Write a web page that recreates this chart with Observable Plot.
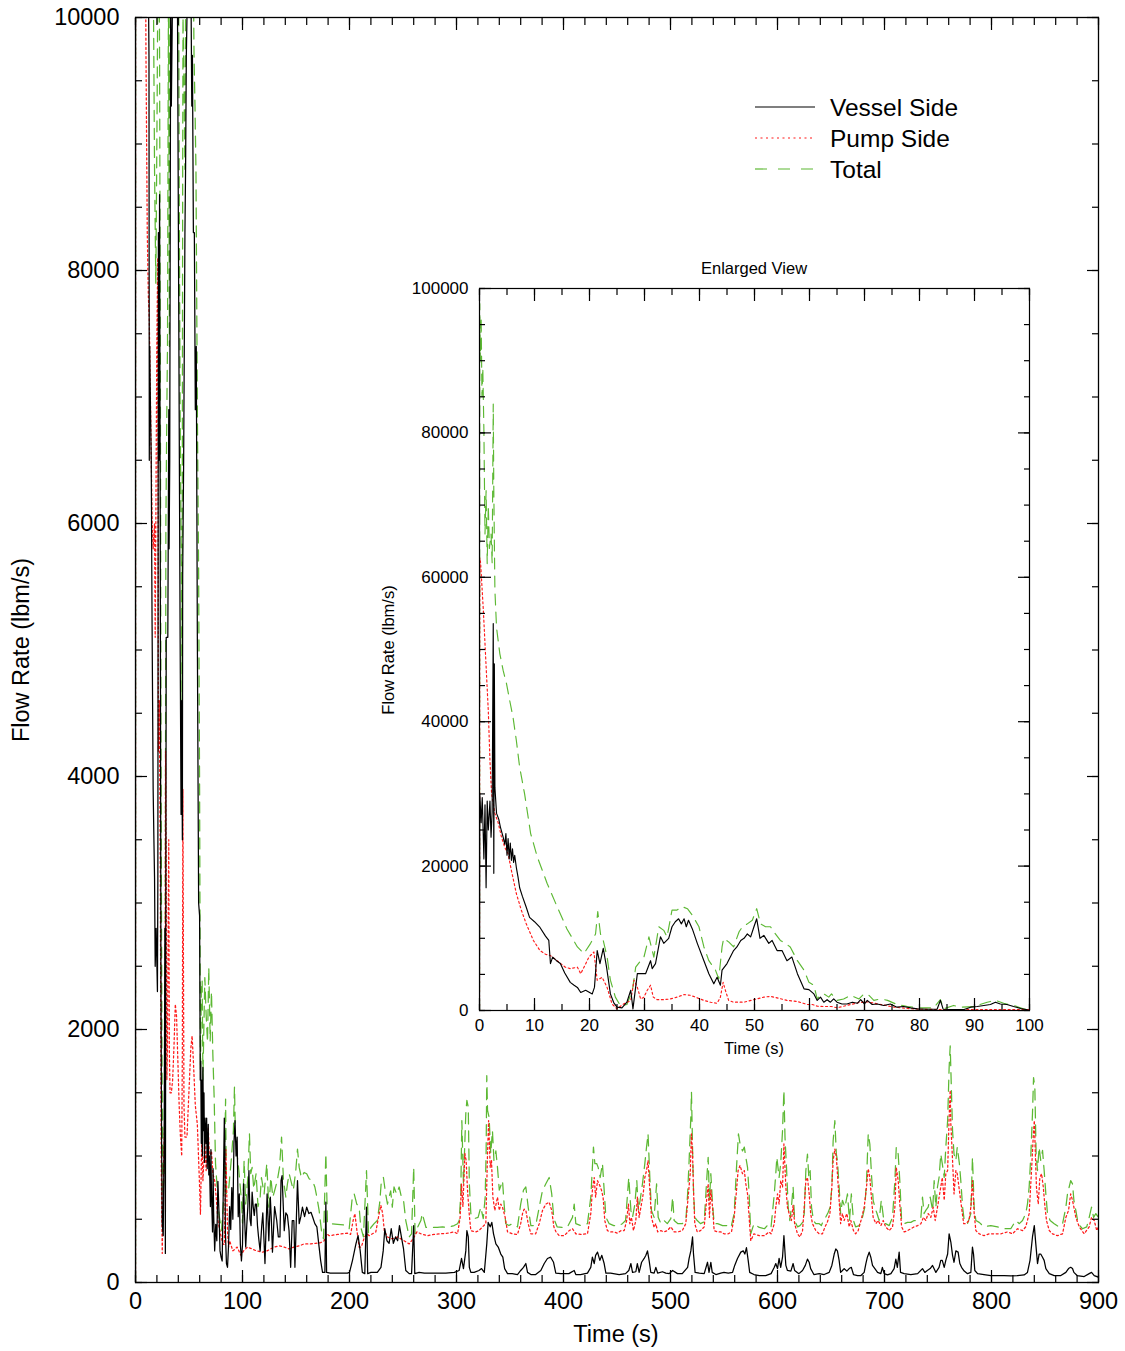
<!DOCTYPE html>
<html>
<head>
<meta charset="utf-8">
<script src="https://cdn.jsdelivr.net/npm/d3@7"></script>
<script src="https://cdn.jsdelivr.net/npm/@observablehq/plot@0.6"></script>
<style>
  html, body { margin: 0; padding: 0; background: #fff; }
  #chart { position: relative; width: 1125px; height: 1351px; font-family: "Liberation Sans", Arial, Helvetica, sans-serif; color: #000; overflow: hidden; }
  #chart > svg, #chart > div.part { position: absolute; }
  .lbl { position: absolute; white-space: nowrap; line-height: 1; transform: translate(-50%, -50%); }
  .rot { transform: translate(-50%, -50%) rotate(-90deg); }
</style>
</head>
<body>
<div id="chart"></div>
<script>
// ---------- Series, [time (s), flow rate (lbm/s)] ----------

// First 100 s (high-resolution record)
const earlyVessel = [
  [0,0],[0.05,30000],[0.3,26000],[0.5,29500],[0.8,21000],[1.0,28500],[1.2,17000],[1.4,29000],[1.6,25000],[1.9,29000],
  [2.1,24000],[2.3,27500],[2.5,53600],[2.6,19000],[2.7,48000],[2.8,30900],[3.1,27300],[3.5,26500],[3.8,25400],[4.3,24000],
  [4.6,23000],[4.8,24500],[5.0,21500],[5.2,23800],[5.4,21000],[5.6,23200],[5.8,20800],[6.0,22400],[6.2,20500],[6.4,21500],
  [6.7,19800],[7.0,18500],[7.3,17000],[7.8,15800],[8.5,14300],[9.1,12900],[10.0,12300],[11.0,11500],[12.0,10300],[12.6,9700],
  [12.9,6500],[13.3,7400],[14.0,6900],[14.7,6500],[15.5,5200],[16.5,3900],[17.2,3500],[17.8,3200],[18.4,2500],[19.3,2800],
  [20.5,2300],[20.9,3200],[21.4,8300],[21.9,6500],[22.5,8600],[23.1,6000],[23.8,2300],[24.4,1100],[25.0,460],[25.9,370],
  [26.8,1150],[27.5,2800],[27.9,230],[28.7,5100],[29.3,5100],[30.2,5100],[31.1,6900],[31.4,5800],[32.0,6500],[32.9,10200],
  [33.5,9300],[34.4,10000],[35.0,11600],[35.6,12300],[36.2,12700],[36.7,12000],[37.2,12700],[37.6,11600],[38.0,12500],[38.7,11300],
  [39.6,9300],[40.8,6900],[41.7,5100],[42.6,3700],[43.2,4600],[43.8,3500],[44.1,5600],[45.0,6500],[46.2,8300],[46.8,8800],
  [47.5,9700],[48.1,10000],[48.7,10600],[49.3,10200],[49.9,11600],[50.4,12700],[51.0,10000],[51.7,10400],[52.6,9300],[53.2,9700],
  [54.1,8300],[55.0,8300],[55.9,6900],[56.8,7400],[57.8,5100],[59.0,3000],[59.9,2900],[60.8,2300],[61.4,1400],[62.0,1850],
  [62.6,1150],[63.2,1500],[63.8,1150],[64.4,1600],[65.0,1150],[65.9,900],[66.8,900],[67.8,1150],[68.7,1000],[69.3,1500],
  [70.0,900],[70.5,1400],[71.4,830],[72.3,900],[73.5,700],[74.7,900],[75.9,460],[77.1,550],[78.4,370],[79.6,230],
  [81.4,180],[83.2,180],[83.8,1400],[84.3,180],[86.2,140],[88.1,140],[89.3,460],[90.5,550],[91.7,700],[92.9,830],
  [93.8,1150],[94.7,900],[95.9,830],[97.1,550],[98.4,280],[99.6,90]
];

const earlyPump = [
  [0,0],[0.05,62700],[0.2,62000],[0.7,55400],[1.0,50800],[1.3,46100],[1.6,41500],[1.9,34600],[2.2,30000],[2.8,27300],
  [3.4,26000],[4.0,24000],[4.6,22600],[5.2,21700],[5.8,19400],[6.7,16200],[7.6,13900],[8.5,12000],[9.8,9700],[11.0,8300],
  [12.0,7800],[12.9,7600],[14.1,6900],[15.6,6000],[16.5,5800],[17.8,6000],[18.4,5100],[19.0,6000],[19.9,7400],[20.8,8100],
  [21.4,4200],[22.3,4600],[23.2,3200],[24.1,900],[25.0,230],[26.2,900],[27.5,1400],[28.1,4200],[28.7,3200],[29.3,1600],
  [29.9,1850],[30.5,2800],[31.1,3500],[31.6,1850],[32.3,1500],[33.5,1500],[34.7,1600],[35.9,1850],[37.2,2200],[38.4,2100],
  [39.6,1750],[40.8,1400],[42.0,1150],[43.2,1000],[43.8,1850],[44.3,3900],[44.7,2800],[45.3,1400],[46.2,1150],[48.1,1150],
  [49.9,1500],[51.7,1850],[52.9,1950],[54.1,1750],[55.9,1400],[57.8,1250],[59.6,830],[60.5,830],[61.4,600],[62.5,550],
  [64,550],[65,370],[67.5,830],[69,1100],[70.5,1200],[73,830],[75.4,460],[77.8,280],[80.2,180],[82.6,140],
  [86,140],[90,140],[95,140],[100,140]
];

const earlyTotal = [
  [0,0],[0.05,97900],[0.15,90000],[0.3,96000],[0.45,85000],[0.6,89000],[0.8,80300],[1.0,66000],[1.2,72000],[1.4,61900],
  [1.6,70000],[1.8,64000],[2.1,66000],[2.3,62000],[2.5,84000],[2.6,72000],[2.8,58200],[3.1,53000],[3.7,49400],[4.3,47100],
  [4.9,45300],[5.5,42900],[6.1,40600],[6.7,37400],[7.3,33700],[8.2,30000],[9.3,24500],[10.5,21300],[12.3,17600],[14.1,14400],
  [15.9,11300],[17.8,8800],[19.0,7900],[20.2,9300],[21.1,10600],[21.5,13700],[22.0,10600],[22.5,9700],[23.2,7400],[23.8,4200],
  [24.7,1850],[25.6,690],[26.8,830],[27.8,2800],[28.4,6000],[29.3,6900],[29.9,7400],[30.8,10200],[31.7,7400],[32.6,11600],
  [33.5,11100],[34.1,10200],[35.0,13900],[35.9,13900],[36.8,14400],[37.8,14100],[38.7,13200],[39.9,11600],[40.8,8800],[41.7,6900],
  [42.9,5600],[43.5,4400],[44.1,8800],[44.4,10000],[45.3,9500],[46.2,8800],[47.2,10900],[47.8,11600],[48.7,12000],[49.6,12500],
  [50.4,14100],[51.1,12000],[52.0,11600],[52.9,11600],[53.8,10600],[54.7,9700],[55.6,9300],[56.5,8800],[57.8,6900],[59.0,5600],
  [59.9,3900],[60.8,3500],[61.4,1600],[62.0,2100],[62.6,2300],[63.5,1850],[64.0,2300],[65.0,1400],[66.2,1600],[67.5,2100],
  [69.0,1600],[69.9,2300],[70.8,2100],[71.7,1400],[72.9,1600],[74.2,1400],[75.9,830],[77.8,550],[80.2,370],[82.6,370],
  [83.8,1500],[84.4,230],[86.2,700],[87.4,460],[89.9,550],[92.3,1150],[93.8,1400],[95.3,1000],[97.1,700],[98.9,230],[99.8,90]
];

// From 60 s to the end of the transient
const lateVessel = [
  [60.5,1600],[61,1750],[61.5,1100],[62,1600],[62.5,1000],[63,1700],[63.5,1200],[64,1500],[64.5,950],[65,1300],
  [66,1100],[66.5,1300],[67,900],[68,1250],[68.5,850],[69,1000],[70,600],[70.5,1050],[71,700],[72,400],
  [72.5,900],[73,550],[74,250],[75,460],[76,330],[77,800],[78,560],[79,250],[80,200],[81,170],
  [82,700],[83,1300],[83.5,1100],[84,400],[85,150],[86,120],[87,300],[88,600],[89,420],[90,750],
  [91,500],[92,1100],[93,1280],[94,1000],[95,1150],[96,520],[97,700],[98,300],[99,170],[100,300],
  [101,780],[102,500],[103,280],[104,450],[105,600],[106,885],[107,500],[108,450],[109,715],[110,600],
  [111,530],[112,620],[113,620],[114,450],[115,360],[116.5,250],[118,450],[119,550],[121,150],[123,700],
  [124.6,330],[126,675],[127,490],[128,240],[130,600],[132,490],[133.5,360],[135,360],[136,805],[137,845],
  [139,410],[140.5,550],[142,530],[143.5,410],[145,120],[146.5,490],[148,490],[149,120],[151.4,805],[153,465],
  [154.5,520],[156,595],[158,520],[160,595],[162,545],[164,555],[165.5,520],[167.6,465],[169.5,440],[171.6,280],
  [173,175],[174.8,80],[177,80],[177.9,635],[178.6,80],[182,74],[190,74],[198,74],[200,80],[202.8,175],
  [206,305],[208,370],[210,250],[212,80],[214.3,70],[215.9,595],[217,70],[220,80],[226,80],[229.4,120],
  [231.5,250],[233,425],[235,330],[237,310],[239,425],[241,310],[243,360],[245,330],[246.7,450],[248.5,360],
  [250.5,265],[252.6,95],[255.8,70],[258,70],[260,450],[261,70],[265,80],[270,74],[280,74],[290,74],
  [298,80],[302.5,95],[304.7,190],[306.5,110],[308.7,250],[309.7,410],[311,360],[312,120],[313.4,80],[316.5,80],
  [321,95],[323.4,110],[326,80],[328.3,305],[329.6,475],[331.5,440],[333,475],[334.6,385],[336.8,305],[339,280],
  [341.4,225],[343.3,200],[345,110],[347.7,70],[352,70],[357,63],[360,95],[362.6,120],[364.8,150],[366.4,80],
  [369.5,63],[374,63],[378.8,95],[382,150],[385,190],[388,200],[390.7,160],[392.8,74],[397.5,70],[405,70],
  [410,95],[411.5,63],[416,63],[422.4,74],[425.5,120],[427,200],[428.7,150],[430,215],[431.8,240],[434,175],
  [435.8,215],[438,150],[439.6,74],[444,74],[452,63],[458,70],[461,95],[463,150],[464.5,80],[467.6,85],
  [469,150],[470.7,80],[473,160],[475.4,190],[477,215],[478.5,250],[480,175],[481.6,80],[484.7,74],[486.3,120],
  [488,74],[492.5,85],[495.6,74],[498.8,70],[502,95],[506.5,70],[511,70],[516,120],[517.4,190],[519,250],
  [520.6,360],[521.5,225],[523,80],[527,74],[531.5,70],[534.6,160],[536,80],[537.7,160],[539,80],[542.4,63],
  [547,74],[550,80],[554,74],[558,80],[560,135],[562.6,190],[565.7,240],[568,250],[569.5,225],[571,275],
  [572.6,175],[574,80],[578,63],[583,55],[589,55],[594,70],[597,120],[598.4,150],[600,110],[601.5,190],
  [603,120],[604.7,200],[606,370],[607.8,135],[609.3,95],[612.5,90],[614.6,150],[616,95],[620,70],[623.4,95],
  [626,135],[628,185],[629.6,160],[631,110],[634,63],[639,70],[643.6,63],[648.3,80],[650.8,135],[653,225],
  [654.5,265],[656,250],[657.6,175],[659,80],[660.7,95],[662.3,110],[664.8,90],[667,110],[669,120],[671,63],
  [674.8,55],[678,55],[681,80],[682.6,150],[684,200],[685.7,240],[687.2,200],[688.8,135],[691,110],[693.5,80],
  [696.6,70],[698,120],[699.7,70],[702.8,60],[706,70],[709,110],[710.6,185],[712,120],[713.7,240],[715,80],
  [718.4,70],[724.6,63],[731,70],[735.5,110],[737.7,80],[740,95],[742.7,110],[744.9,135],[748,80],[751,120],
  [752.6,175],[754,175],[755.8,120],[757.3,175],[759,225],[760.4,385],[762,320],[763.6,215],[765,160],[766.7,250],
  [768.8,240],[770.4,150],[772,120],[774.5,90],[777.6,70],[780.7,80],[782.2,280],[783.2,225],[784.4,95],[787,70],
  [793,63],[799.4,55],[805.6,55],[811.8,55],[818,53],[824.3,55],[830.5,60],[833.6,80],[836,175],[838.3,360],
  [840,450],[841.4,305],[843,150],[844.5,225],[846,225],[847.7,200],[849.2,175],[850.8,110],[854,70],[858.6,55],
  [864.8,55],[869.5,80],[872,110],[874,120],[875.7,110],[877,80],[880,55],[886.6,47],[891.3,70],[893.5,80],
  [896,55],[900,42]
];

const latePump = [
  [60.7,540],[62,1175],[63,805],[64.8,1120],[66,885],[68,1230],[69,990],[71,1040],[72.3,860],[74,805],
  [75.4,675],[77,490],[79.4,385],[81.6,305],[83,300],[84.5,1050],[86,400],[87,280],[88,330],[91,250],
  [95,280],[98.5,215],[101,250],[104.7,280],[109,265],[113,250],[118.7,240],[123,250],[129.6,280],[134,290],
  [139,280],[143.6,265],[148,280],[153,290],[157.6,305],[164,305],[168.5,310],[173,315],[176.3,330],[178.8,385],
  [181,370],[188.8,380],[198,390],[201,380],[203.4,490],[205,545],[206.5,440],[209,280],[211,280],[214,360],
  [216.5,385],[218.4,370],[221.5,385],[224.6,400],[227.7,545],[229.3,610],[231,545],[232.5,410],[235.5,360],[240,345],
  [245,360],[251,330],[255.8,305],[258,330],[260.4,360],[263,400],[266.7,385],[273,370],[279,380],[285,385],
  [291.6,390],[297.8,400],[301,385],[303.4,515],[304.7,780],[306,600],[307.8,1020],[309,965],[310.3,730],[312,530],
  [313.4,410],[318,400],[321,410],[324.3,440],[327.4,465],[329,1020],[330,1280],[331.5,910],[332.7,965],[334,675],
  [335.8,570],[338.3,675],[340,570],[341.4,620],[343,595],[345.5,515],[347.7,400],[352,385],[357,380],[360,465],
  [361.7,545],[363.2,580],[364.8,570],[367,465],[369.5,385],[374,385],[377.3,465],[380.4,570],[383.5,620],[386.6,635],
  [389,570],[391,440],[393,400],[396,370],[400.6,370],[405.3,410],[408.4,425],[411.5,385],[416,380],[422.4,385],
  [425.5,545],[427,730],[428.7,830],[430,675],[431.8,805],[434,765],[435.5,730],[437,675],[438.6,490],[441,410],
  [444,400],[447,400],[450.5,390],[453.6,410],[456.7,410],[459,490],[460.7,620],[462,465],[463.5,515],[465.4,410],
  [467.6,490],[469,675],[470.7,515],[472.3,595],[474.5,700],[476,830],[477.6,885],[479,965],[480.7,730],[482.2,515],
  [484.7,435],[486.3,465],[488,400],[491,410],[494,400],[497,410],[500.3,440],[503.4,400],[507,400],[511,410],
  [514.3,465],[516.5,675],[518.4,860],[519.6,1175],[520.6,1020],[521.5,730],[522.7,465],[525,400],[528,410],[531.5,440],
  [534,675],[535.2,780],[536.4,515],[537.7,730],[539.3,595],[540.8,410],[544,400],[547,400],[550,385],[554,385],
  [557,400],[559.5,515],[561.7,730],[563.2,885],[565,925],[567.3,860],[569,885],[570.4,780],[572,700],[573.5,515],
  [575,330],[578,385],[583,370],[587.8,370],[592,400],[594,385],[597,465],[598.4,595],[600,700],[601.5,620],
  [603,805],[604.7,755],[606,1095],[607.8,755],[609.3,595],[611,540],[613,490],[614.6,610],[616,465],[618.7,385],
  [621,360],[623.4,410],[625,595],[626.5,805],[628,830],[629.6,700],[631,545],[632.7,465],[635.8,410],[639,385],
  [642,385],[644.4,440],[646.7,480],[649,545],[650.8,755],[652,965],[653.6,1055],[655,990],[656,860],[657.6,650],
  [659,465],[660.7,545],[662.3,490],[664.8,545],[667,440],[668.5,490],[671,410],[673,385],[675.4,410],[678,490],
  [681,595],[683.2,755],[684.8,900],[686.3,830],[688,650],[689.4,515],[692,465],[694,490],[696.6,450],[698.8,490],
  [701,440],[704.4,410],[707.5,440],[709.7,595],[711,910],[712.8,805],[714.3,620],[716,440],[718.4,400],[721.5,410],
  [724.6,425],[727.7,440],[731,450],[734,465],[736.4,515],[738.6,490],[740.8,545],[743.3,515],[745.5,595],[747.4,490],
  [749.5,595],[752.6,755],[754,830],[755.8,650],[757.3,860],[759,885],[760.4,1305],[761.4,1520],[762,1255],[763.6,965],
  [765,700],[766.7,885],[768,860],[770.4,700],[772,595],[774,465],[776,465],[779,490],[780.7,595],[782.2,805],
  [783.8,545],[785.4,410],[788.5,385],[793,370],[797.8,385],[802.5,385],[808.7,385],[815,400],[819.6,385],[824.3,425],
  [829,410],[832,440],[835.2,545],[837.4,885],[839,1150],[840,1280],[840.8,1070],[842,755],[843.7,620],[845.2,830],
  [846.8,860],[848.4,755],[850,595],[851.4,490],[854,410],[857,385],[861.7,370],[866.4,385],[869.5,515],[872,570],
  [874,700],[875.7,650],[877,595],[878.8,515],[882,440],[886.6,385],[891.3,440],[893.5,515],[896,490],[898.4,410],
  [900,440]
];

const lateTotal = [
  [60.7,1675],[61.5,2300],[62.3,2390],[63,1600],[64,2070],[64.8,2410],[66,2120],[67.3,1900],[68.5,2490],[69.8,1910],
  [71,2300],[72.3,1800],[73.5,1465],[74.8,940],[76.3,750],[78,540],[80.4,410],[82,600],[83.5,1100],[84.2,1450],
  [85,700],[87.2,750],[89.7,990],[91.5,1200],[92.5,1545],[93.5,1120],[96.6,885],[99,650],[100,470],[101.5,965],
  [103,620],[105,830],[106.5,1175],[107.7,860],[109,910],[110.5,740],[112.7,860],[114.5,600],[116.5,675],[117.7,830],
  [120.2,700],[122.7,940],[124.6,595],[126.5,830],[128.3,675],[130,725],[132.5,805],[134.6,910],[136.5,1150],[138.3,805],
  [140.5,675],[142,780],[143.6,860],[145.2,805],[147.5,730],[149.8,885],[151.4,1055],[153,910],[155,830],[157.6,870],
  [160,860],[162.3,820],[165.4,805],[167.6,755],[169.5,675],[171.6,570],[173.8,410],[175.7,345],[177.9,1020],[179.4,465],
  [182.6,465],[188.8,460],[195,455],[199.7,425],[202.8,690],[204.4,700],[206.8,620],[209,595],[210.5,440],[213,360],
  [215.9,885],[217.8,385],[220,435],[223,465],[226,490],[228.3,635],[229.8,805],[231.7,830],[233.8,700],[235.5,620],
  [237,675],[238.5,725],[240,595],[241.6,755],[244,700],[246.4,755],[248.5,675],[250.5,650],[252.6,490],[255.8,360],
  [258,385],[260,910],[261.3,385],[263.6,435],[266.7,490],[268,545],[271.5,435],[276,435],[282,435],[287,440],
  [291.6,435],[297.8,450],[301,465],[302.5,490],[304,700],[305,1280],[306.5,780],[308.7,1335],[309.7,1440],[311,1385],
  [312,780],[313.4,545],[316.5,505],[320.2,515],[322.7,595],[325,505],[326.8,675],[327.7,1040],[328.3,1635],[329,1360],
  [330.5,1305],[332,1020],[333.6,1200],[335,965],[336.8,1040],[338.3,910],[340,730],[343,805],[344.5,620],[346,465],
  [349,450],[352,465],[357,440],[360,620],[362.6,730],[364.8,755],[367,595],[369.5,450],[374,450],[377.3,595],
  [380.4,730],[383.5,780],[386.6,830],[389,700],[391,505],[394,440],[399,435],[403.7,440],[408.4,515],[410,620],
  [411.5,465],[416,450],[422.4,465],[425.5,675],[427,910],[428,1070],[429.3,940],[431,940],[432.4,910],[434.3,830],
  [436.4,940],[438,730],[439.6,515],[442.7,465],[447,450],[452,450],[455,465],[458,490],[461,830],[463,570],
  [464.5,515],[466.7,620],[468.5,805],[470,570],[471.6,650],[473.8,780],[476,940],[477.6,1070],[479,1175],[480.7,830],
  [482.2,570],[484.7,515],[487,780],[488.5,515],[491,465],[494,490],[497,465],[500.3,505],[502,675],[503.4,490],
  [507,465],[511,465],[514.3,490],[516,700],[517.4,965],[519,1305],[519.6,1505],[520.6,1070],[521.5,730],[522.7,515],
  [525,490],[528,465],[531.5,480],[533.6,780],[535.2,990],[536.4,650],[537.7,860],[539.3,620],[540.8,465],[544,465],
  [548.7,450],[553.4,450],[556.5,435],[559.5,545],[561.7,910],[563.5,1175],[565,1095],[567.3,1040],[569,1070],[570.4,990],
  [572,910],[573.5,700],[575,385],[578,465],[583,435],[587.8,425],[592,465],[594,440],[597,700],[598.4,860],
  [599.4,990],[601.5,830],[603,940],[604.7,1200],[606,1520],[607,1150],[608.4,910],[610,595],[611.5,490],[613,595],
  [614.6,755],[616,490],[618.7,440],[621,450],[623.4,475],[625,545],[626.5,885],[628,1015],[629.3,830],[630.5,885],
  [631.8,595],[633.6,490],[635.8,465],[639,465],[641,450],[643,490],[645,515],[647.4,555],[649.2,595],[650.8,755],
  [652,1120],[653.6,1280],[655,1015],[656,965],[657.6,755],[659,545],[660.7,650],[663,595],[665.4,700],[667.3,490],
  [669,700],[671,490],[673,440],[676.3,450],[679.4,515],[681.6,595],[683.2,805],[684.8,1175],[686.3,1095],[688,830],
  [689.4,650],[691,595],[693,545],[695,490],[697,650],[699,515],[701,465],[704.4,450],[707.5,515],[709.7,805],
  [711,1070],[712.8,1015],[714.3,805],[716,490],[718.4,465],[721.5,475],[724.6,475],[727.7,490],[731,490],[734,515],
  [735.5,675],[737,545],[738.6,570],[740.8,595],[742.7,675],[745,570],[746.4,805],[748,595],[749.5,755],[751,830],
  [752.6,1015],[754,940],[755.8,830],[757.3,1070],[759,1280],[760.4,1700],[761.4,1870],[762.3,1595],[763.6,1200],[765,1015],
  [766.7,965],[768,1070],[770,940],[771.3,805],[773,595],[774.5,490],[777.6,465],[780.7,545],[782.2,990],[783.8,595],
  [785.4,490],[788.5,475],[793,440],[799.4,450],[805.6,440],[811.8,425],[818,425],[822.7,490],[826,465],[829,490],
  [832,545],[833.6,620],[835.2,755],[836.8,1015],[838.3,1335],[839.3,1620],[840.5,1545],[841.7,1015],[843,885],[844.5,1070],
  [846,965],[847.7,1045],[849.2,885],[850.8,700],[852.3,545],[854.8,490],[858.6,465],[863,440],[866.4,465],[869.5,595],
  [871,700],[872.6,755],[874,805],[875.7,780],[877,650],[878.8,570],[881,465],[885,425],[889,440],[891.3,515],
  [893.5,595],[895.4,515],[897.5,545],[900,515]
];

// ---------- Axes ----------
const mainXTicks = [0, 100, 200, 300, 400, 500, 600, 700, 800, 900];
const mainYTicks = [0, 2000, 4000, 6000, 8000, 10000];
const insetXTicks = [0, 10, 20, 30, 40, 50, 60, 70, 80, 90, 100];
const insetYTicks = [0, 20000, 40000, 60000, 80000, 100000];
const mainXMinor = d3.range(0, 901, 20);
const mainYMinor = d3.range(0, 10001, 500);
const insetXMinor = d3.range(0, 101, 5);
const insetYMinor = d3.range(0, 100001, 5000);

const seriesNames = ["Vessel Side", "Pump Side", "Total"];
const seriesStyle = {
  "Vessel Side": {stroke: "#000000", dash: null},
  "Pump Side":   {stroke: "#ff1a1a", dash: "2,2.6"},
  "Total":       {stroke: "#5cb833", dash: "11,7"}
};

const FONT = '"Liberation Sans", Arial, Helvetica, sans-serif';

// full-range series: high-resolution record up to 60 s, then the long record
const before60 = (s) => s.filter(d => d[0] < 60);
const mainSeries = {
  "Vessel Side": before60(earlyVessel).concat(lateVessel),
  "Pump Side": before60(earlyPump).concat(latePump),
  "Total": before60(earlyTotal).concat(lateTotal)
};
const insetSeries = {
  "Vessel Side": earlyVessel,
  "Pump Side": earlyPump,
  "Total": earlyTotal
};

function lineMarks(series, width) {
  // drawn back to front: total, pump, vessel
  return ["Total", "Pump Side", "Vessel Side"].map(name => Plot.line(series[name], {
    x: d => d[0], y: d => d[1],
    stroke: seriesStyle[name].stroke,
    strokeWidth: width,
    strokeDasharray: seriesStyle[name].dash,
    clip: true
  }));
}

// inward ticks on all four sides of the frame
function frameTicks(xMajor, xMinor, yMajor, yMinor, majorLen, minorLen) {
  const blank = () => "";
  const common = {tickFormat: blank, label: null, strokeWidth: 1.2};
  return [
    ...["bottom", "top"].flatMap(anchor => [
      Plot.axisX(xMinor, {...common, anchor, tickSize: -minorLen}),
      Plot.axisX(xMajor, {...common, anchor, tickSize: -majorLen})
    ]),
    ...["left", "right"].flatMap(anchor => [
      Plot.axisY(yMinor, {...common, anchor, tickSize: -minorLen}),
      Plot.axisY(yMajor, {...common, anchor, tickSize: -majorLen})
    ])
  ];
}

function tickLabels(xMajor, yMajor, fontSize, padX, padY) {
  return [
    Plot.axisX(xMajor, {anchor: "bottom", tickSize: 0, tickPadding: padX, fontSize, label: null, tickFormat: d => String(d)}),
    Plot.axisY(yMajor, {anchor: "left", tickSize: 0, tickPadding: padY, fontSize, label: null, tickFormat: d => String(d)})
  ];
}

const chart = document.getElementById("chart");

// ---------- Main chart ----------
const mainPlot = Plot.plot({
  width: 1125, height: 1351,
  marginLeft: 135, marginRight: 27, marginTop: 17, marginBottom: 69,
  x: {domain: [0, 900]},
  y: {domain: [0, 10000]},
  style: {fontFamily: FONT, background: "transparent", color: "#000", overflow: "visible"},
  marks: [
    ...lineMarks(mainSeries, 1.25),
    Plot.frame({stroke: "#000", strokeWidth: 1.3}),
    ...frameTicks(mainXTicks, mainXMinor, mainYTicks, mainYMinor, 12, 7),
    ...tickLabels(mainXTicks, mainYTicks, 23.5, 10, 16)
  ]
});
mainPlot.style.left = "0px";
mainPlot.style.top = "0px";
chart.appendChild(mainPlot);

// ---------- Enlarged view ----------
const insetPlot = Plot.plot({
  width: 670, height: 802,
  marginLeft: 100, marginRight: 20, marginTop: 30, marginBottom: 50,
  x: {domain: [0, 100]},
  y: {domain: [0, 100000]},
  style: {fontFamily: FONT, background: "transparent", color: "#000", overflow: "visible"},
  marks: [
    Plot.frame({fill: "#fff", stroke: null}),
    ...lineMarks(insetSeries, 1.15),
    Plot.frame({stroke: "#000", strokeWidth: 1.2}),
    ...frameTicks(insetXTicks, insetXMinor, insetYTicks, insetYMinor, 12, 6),
    ...tickLabels(insetXTicks, insetYTicks, 17, 8, 11)
  ]
});
insetPlot.style.left = "379px";
insetPlot.style.top = "258px";
chart.appendChild(insetPlot);

// ---------- Titles and axis names ----------
function label(text, x, y, size, rotate) {
  const el = document.createElement("div");
  el.className = "lbl" + (rotate ? " rot" : "");
  el.textContent = text;
  el.style.left = x + "px";
  el.style.top = y + "px";
  el.style.fontSize = size + "px";
  chart.appendChild(el);
}
label("Time (s)", 616, 1335, 23.5);
label("Flow Rate (lbm/s)", 22, 650, 23.5, true);
label("Enlarged View", 754, 268, 16.5);
label("Time (s)", 754, 1048, 16.5);
label("Flow Rate (lbm/s)", 388, 650, 16.5, true);

// ---------- Legend ----------
const legend = d3.select(chart).append("svg")
  .attr("width", 260).attr("height", 100)
  .style("left", "745px").style("top", "88px")
  .style("font-family", FONT);
seriesNames.forEach((name, i) => {
  const y = 19 + i * 31;
  legend.append("line")
    .attr("x1", 10).attr("x2", 70).attr("y1", y).attr("y2", y)
    .attr("stroke", seriesStyle[name].stroke)
    .attr("stroke-width", 1.2)
    .attr("stroke-dasharray", name === "Total" ? "12,11" : name === "Pump Side" ? "2,3.5" : null);
  legend.append("text")
    .attr("x", 85).attr("y", y)
    .attr("dominant-baseline", "central")
    .attr("font-size", 24.5)
    .text(name);
});
</script>
</body>
</html>
